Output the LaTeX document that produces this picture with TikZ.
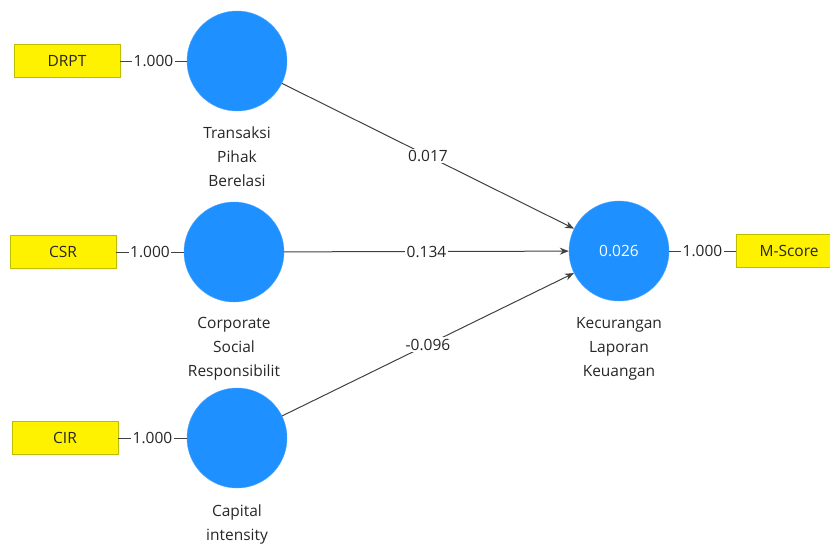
\documentclass[tikz,border=0pt]{standalone}
\usepackage{fontspec}
\setmainfont{Open Sans}
\usetikzlibrary{arrows.meta}
\definecolor{latentblue}{RGB}{30,144,255}
\definecolor{boxedge}{RGB}{190,190,0}
\definecolor{pathgray}{RGB}{64,64,64}
\begin{document}
\begin{tikzpicture}[x=1pt,y=-1pt,font=\fontsize{15.5}{24}\selectfont,
	latent/.style={circle,fill=latentblue,draw=latentblue!80!white,minimum size=100pt,inner sep=0pt,text=white},
	indicator/.style={rectangle,fill=yellow,draw=boxedge,minimum width=106pt,minimum height=33pt,inner sep=0pt,text=black!85},
	caption/.style={align=center,text=black!85},
	weight/.style={fill=white,inner sep=1.5pt,text=black!85}]
	\useasboundingbox (0,0) rectangle (830,544);
	% indicators
	\node[indicator] (drpt) at (67,61) {DRPT};
	\node[indicator] (csr) at (63,252) {CSR};
	\node[indicator] (cir) at (65,438) {CIR};
	\node[indicator] (mscore) at (789,251) {M-Score};
	% constructs
	\node[latent] (tpb) at (237,61) {};
	\node[latent] (csrlv) at (234,252) {};
	\node[latent] (cint) at (237,438) {};
	\node[latent] (klk) at (619,251) {0.026};
	\node[caption] (tpblabel) at (237,157) {Transaksi\\Pihak\\Berelasi};
	\node[caption] (csrlabel) at (234,349) {Corporate\\Social\\Responsibilit};
	\node[caption] (cintlabel) at (237,524) {Capital\\intensity};
	\node[caption] (klklabel) at (619,349) {Kecurangan\\Laporan\\Keuangan};

	\foreach \from/\to in {drpt/tpb,csr/csrlv,cir/cint,klk/mscore}
		\draw[pathgray,line width=1pt] (\from) -- (\to) node[midway,weight]{1.000};
	\foreach \from/\val in {tpb/0.017,csrlv/0.134,cint/-0.096}
		\draw[-{Stealth[length=9pt,width=7pt]},pathgray,line width=1pt] (\from) -- (klk) node[midway,weight]{\val};
\end{tikzpicture}
\end{document}
